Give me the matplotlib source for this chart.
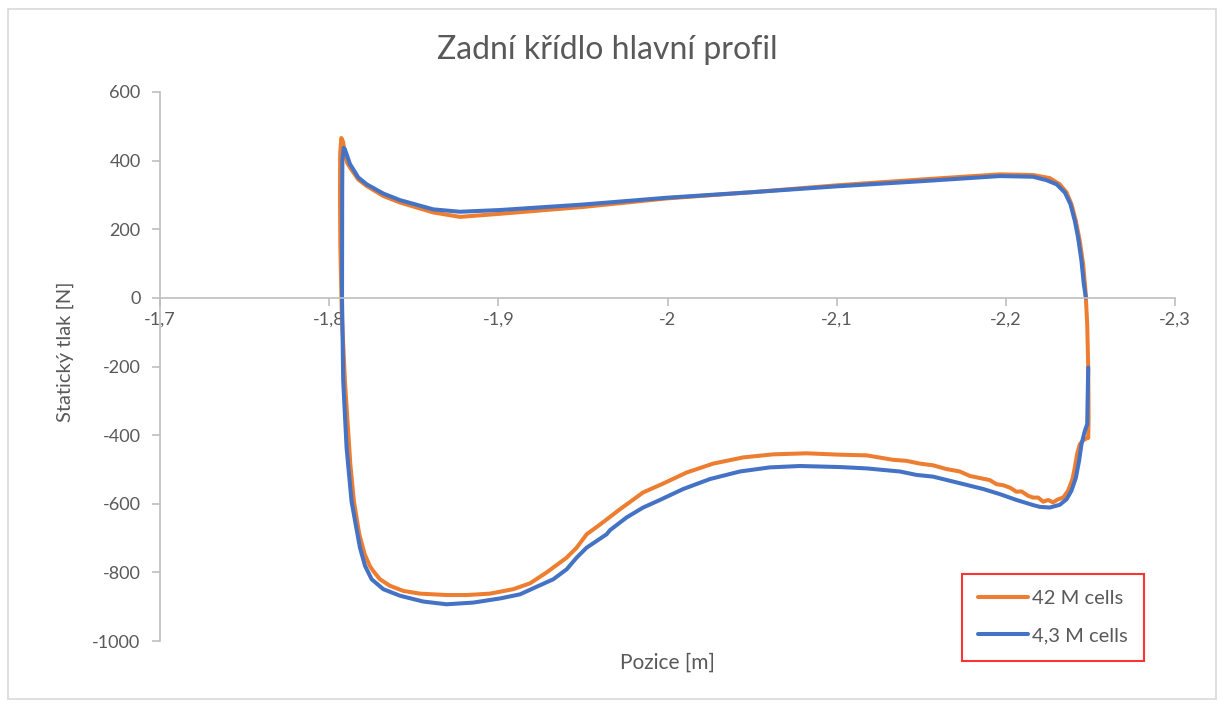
import matplotlib
matplotlib.use("Agg")
import matplotlib.pyplot as plt
from matplotlib.patches import Rectangle
from matplotlib.ticker import FuncFormatter

# 42 M cells (orange): lower TE -> lower surface -> LE -> upper surface -> TE
x_42 = [-2.2487, -2.2457, -2.2437, -2.2421, -2.2408, -2.2394, -2.2368, -2.2339,
        -2.2309, -2.2279, -2.2250, -2.2221, -2.2191, -2.2162, -2.2132, -2.2093,
        -2.2063, -2.2024, -2.1984, -2.1945, -2.1905, -2.1846, -2.1787, -2.1728,
        -2.1650, -2.1570, -2.1492, -2.1413, -2.1334, -2.1177, -2.1019, -2.0822,
        -2.0625, -2.0447, -2.0270, -2.0113, -1.9975, -1.9856, -1.9719, -1.9600,
        -1.9522, -1.9463, -1.9404, -1.9286, -1.9187, -1.9088, -1.8950, -1.8813,
        -1.8694, -1.8537, -1.8438, -1.8359, -1.8300, -1.8262, -1.8240, -1.8210,
        -1.8178, -1.8146, -1.8125, -1.8093, -1.8075, -1.8066, -1.8064, -1.8065,
        -1.8072, -1.8082, -1.8093, -1.8105, -1.8123, -1.8172, -1.8222, -1.8320,
        -1.8418, -1.8615, -1.8773, -1.9009, -1.9500, -2.0000, -2.0500, -2.1000,
        -2.1500, -2.1965, -2.2161, -2.2260, -2.2319, -2.2359, -2.2388, -2.2414,
        -2.2437, -2.2457, -2.2471, -2.2481, -2.2487, -2.2489, -2.2487]
y_42 = [-407, -415, -427, -456, -494, -528, -562, -582,
        -587, -596, -589, -594, -582, -582, -577, -564,
        -565, -553, -546, -543, -531, -525, -519, -506,
        -499, -488, -483, -475, -472, -459, -457, -453,
        -456, -465, -483, -509, -541, -567, -616, -661,
        -689, -728, -757, -800, -832, -849, -862, -866,
        -866, -862, -854, -839, -820, -797, -781, -747,
        -689, -592, -484, -242, -50, 150, 300, 420,
        466, 455, 420, 395, 380, 345, 326, 297,
        278, 249, 236, 245, 265, 290, 308, 328,
        345, 360, 358, 349, 331, 307, 273, 224,
        166, 98, 20, -77, -203, -349, -407]

# 4,3 M cells (blue): starts at lower TE, ends at upper TE near 0
x_43 = [-2.2487, -2.2483, -2.2481, -2.2467, -2.2447, -2.2433, -2.2414, -2.2388,
        -2.2359, -2.2319, -2.2260, -2.2201, -2.2162, -2.2063, -2.1965, -2.1866,
        -2.1768, -2.1669, -2.1570, -2.1472, -2.1374, -2.1177, -2.1019, -2.0783,
        -2.0605, -2.0428, -2.0251, -2.0093, -1.9955, -1.9856, -1.9758, -1.9660,
        -1.9640, -1.9522, -1.9463, -1.9404, -1.9325, -1.9226, -1.9128, -1.9010,
        -1.8852, -1.8694, -1.8556, -1.8418, -1.8320, -1.8251, -1.8212, -1.8182,
        -1.8160, -1.8132, -1.8103, -1.8083, -1.8076, -1.8077, -1.8078, -1.8086,
        -1.8093, -1.8123, -1.8172, -1.8222, -1.8320, -1.8418, -1.8615, -1.8773,
        -1.9009, -1.9500, -2.0000, -2.0500, -2.1000, -2.1500, -2.1965, -2.2161,
        -2.2240, -2.2300, -2.2349, -2.2382, -2.2408, -2.2427, -2.2447, -2.2461,
        -2.2473]
y_43 = [-203, -310, -368, -388, -427, -475, -524, -562,
        -587, -603, -611, -609, -604, -589, -572, -557,
        -545, -533, -521, -516, -506, -497, -493, -490,
        -494, -506, -528, -557, -589, -611, -640, -677,
        -689, -728, -757, -791, -820, -842, -864, -876,
        -888, -893, -885, -868, -849, -820, -781, -728,
        -669, -592, -437, -242, 0, 300, 400, 437,
        433, 390, 351, 331, 304, 285, 258, 251,
        256, 272, 292, 308, 325, 340, 355, 353,
        343, 331, 307, 273, 224, 176, 108, 40,
        1]

x_ticks = [-1.7, -1.8, -1.9, -2.0, -2.1, -2.2, -2.3]
y_ticks = [-1000, -800, -600, -400, -200, 0, 200, 400, 600]

plt.rcParams['font.family'] = ['Lato', 'DejaVu Sans']
txt = '#595959'
axc = '#BFBFBF'

fig = plt.figure(figsize=(12.24, 7.07), dpi=100)
W, H = 1224, 707
ax = fig.add_axes([160 / W, 1 - 641 / H, (1175 - 160) / W, (641 - 92) / H])

ax.plot(x_42, y_42, color='#ED7D31', lw=2.9, label='42 M cells',
        solid_capstyle='round', solid_joinstyle='round')
ax.plot(x_43, y_43, color='#4472C4', lw=2.9, label='4,3 M cells',
        solid_capstyle='round', solid_joinstyle='round')

ax.set_xlim(-1.7, -2.3)
ax.set_ylim(-1000, 600)
ax.set_xticks(x_ticks)
ax.set_yticks(y_ticks)
ax.xaxis.set_major_formatter(FuncFormatter(lambda v, p: f"{v:g}".replace('.', ',')))
ax.yaxis.set_major_formatter(FuncFormatter(lambda v, p: f"{v:g}"))

for s in ['top', 'right']:
    ax.spines[s].set_visible(False)
ax.spines['bottom'].set_position(('data', 0))
for s in ['bottom', 'left']:
    ax.spines[s].set_color(axc)
    ax.spines[s].set_linewidth(1.2)
ax.tick_params(axis='both', colors=axc, labelcolor=txt, labelsize=13, length=6, width=1.2, direction='out')
ax.tick_params(axis='x', pad=4)
ax.tick_params(axis='y', pad=8)

fig.text(607 / W, 1 - 50 / H, 'Zadní křídlo hlavní profil', ha='center', va='center', fontsize=23, color=txt)
fig.text(667 / W, 1 - 663 / H, 'Pozice [m]', ha='center', va='center', fontsize=15, color=txt)
fig.text(65 / W, 1 - 352 / H, 'Statický tlak [N]', ha='center', va='center', rotation=90, fontsize=14.5, color=txt)

leg = ax.legend(loc='upper left', bbox_to_anchor=(962 / W, 1 - 574 / H), bbox_transform=fig.transFigure,
                frameon=True, fancybox=False, fontsize=14.5, handlelength=2.5, labelspacing=1.0,
                borderpad=0.8, handletextpad=0.2, borderaxespad=0)
leg.get_frame().set_edgecolor('#FF0000')
leg.get_frame().set_linewidth(1.5)
for t in leg.get_texts():
    t.set_color(txt)

fig.patches.append(Rectangle((8 / W, 8 / H), 1208 / W, 690 / H, transform=fig.transFigure,
                             fill=False, edgecolor='#D9D9D9', lw=1.2))

fig.savefig('out.png', dpi=100)
